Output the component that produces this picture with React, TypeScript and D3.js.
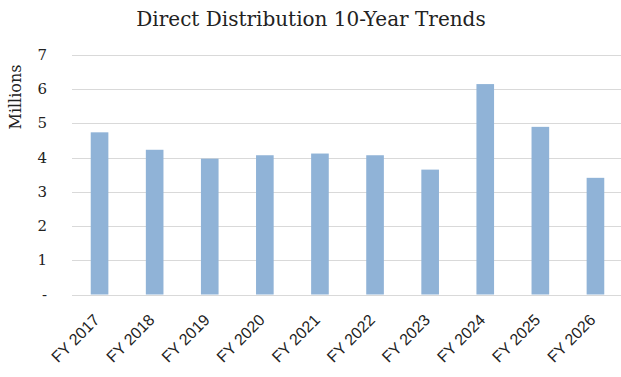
import React from "react";
import * as d3 from "d3";

const categories = ["FY 2017", "FY 2018", "FY 2019", "FY 2020", "FY 2021", "FY 2022", "FY 2023", "FY 2024", "FY 2025", "FY 2026"];
const values = [4.74, 4.23, 3.97, 4.07, 4.12, 4.07, 3.65, 6.15, 4.90, 3.41];
const yTicks = [0, 1, 2, 3, 4, 5, 6, 7];
const title = "Direct Distribution 10-Year Trends";
const yLabel = "Millions";

export default function App() {
  const W = 621, H = 377;
  const x = d3.scaleBand<string>().domain(categories).range([72, 623]).paddingInner(0.68).paddingOuter(0.34);
  const y = d3.scaleLinear().domain([0, 7]).range([294.5, 55]);
  const serif = "'DejaVu Serif', serif";
  return (
    <svg width={W} height={H} style={{ position: "absolute", left: 0, top: 0, background: "#fff" }}>
      <text x={311} y={26} textAnchor="middle" fontFamily={serif} fontSize={20} fill="#222">{title}</text>
      <text transform={`translate(21,97) rotate(-90)`} textAnchor="middle" fontFamily={serif} fontSize={16} fill="#222">{yLabel}</text>
      {yTicks.map((t) => (
        <g key={t}>
          <line x1={72} x2={W} y1={Math.round(y(t)) + 0.5} y2={Math.round(y(t)) + 0.5} stroke="#d9d9d9" strokeWidth={1} />
          <text x={47} y={y(t) + 5} textAnchor="end" fontFamily={serif} fontSize={15} fill="#222">{t === 0 ? "-" : String(t)}</text>
        </g>
      ))}
      {categories.map((c, i) => (
        <rect key={c} x={x(c)} y={y(values[i])} width={x.bandwidth()} height={y(0) - y(values[i])} fill="#90b3d7" />
      ))}
      {categories.map((c) => {
        const cx = (x(c) as number) + x.bandwidth() / 2;
        return (
          <text key={c} transform={`translate(${cx + 1},${321}) rotate(-45)`} textAnchor="end" fontFamily="'Liberation Sans', sans-serif" fontSize={16} fill="#222">{c}</text>
        );
      })}
    </svg>
  );
}
